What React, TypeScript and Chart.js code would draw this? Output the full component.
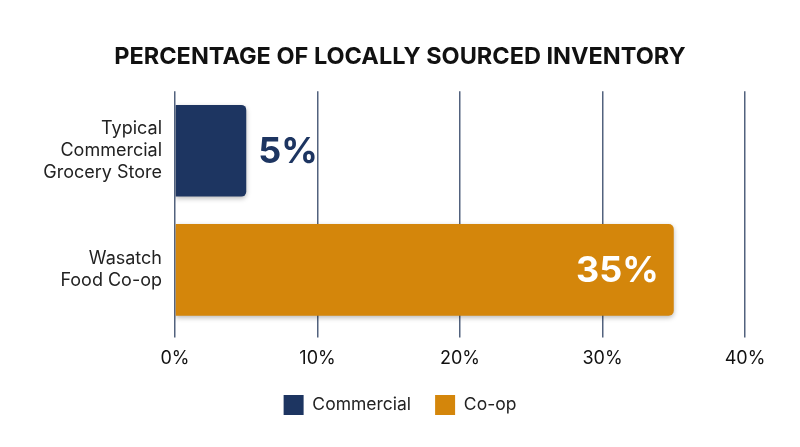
import { useEffect, useRef } from "react";
import { Chart, registerables } from "chart.js";

Chart.register(...registerables);

const CATEGORIES = [["Typical", "Commercial", "Grocery Store"], ["Wasatch", "Food Co-op"]];
const SERIES_NAMES = ["Commercial", "Co-op"];
const COMMERCIAL = [5, null];
const COOP = [null, 35];
const X_TICKS = [0, 10, 20, 30, 40];

const NAVY = "#1d3561";
const ORANGE = "#d4860b";
const GRID = "#52627e";
const FONT = "Inter, 'Open Sans', sans-serif";

// soft shadow under bars
const shadowPlugin = {
  id: "barShadow",
  beforeDatasetsDraw(chart: Chart) {
    const ctx = chart.ctx;
    ctx.save();
    ctx.shadowColor = "rgba(0,0,0,0.28)";
    ctx.shadowBlur = 5;
    ctx.shadowOffsetY = 2;
  },
  afterDatasetsDraw(chart: Chart) {
    chart.ctx.restore();
  },
};

// layout tweaks: legend up a bit, y labels allowed into the left padding
const layoutTweaks = {
  id: "layoutTweaks",
  afterLayout(chart: any) {
    if (chart.legend) {
      chart.legend.top -= 8;
      chart.legend.bottom -= 8;
    }
    if (chart.scales.y) chart.scales.y.left = 0;
  },
};

// value labels: outside short bars, inside long ones
const valueLabels = {
  id: "valueLabels",
  afterDatasetsDraw(chart: Chart) {
    const ctx = chart.ctx;
    ctx.save();
    ctx.font = `700 36px ${FONT}`;
    ctx.textBaseline = "middle";
    chart.data.datasets.forEach((ds, di) => {
      const meta = chart.getDatasetMeta(di);
      meta.data.forEach((bar: any, i) => {
        const v = ds.data[i] as number | null;
        if (v == null) return;
        const txt = `${v}%`;
        if (v < 10) {
          ctx.fillStyle = NAVY;
          ctx.textAlign = "left";
          ctx.fillText(txt, bar.x + 12, bar.y + 1);
        } else {
          ctx.fillStyle = "#ffffff";
          ctx.textAlign = "right";
          ctx.fillText(txt, bar.x - 15, bar.y + 1);
        }
      });
    });
    ctx.restore();
  },
};

export default function App() {
  const canvasRef = useRef<HTMLCanvasElement>(null);

  useEffect(() => {
    document.body.style.margin = "0";
    if (!canvasRef.current) return;
    const chart = new Chart(canvasRef.current, {
      type: "bar",
      data: {
        labels: CATEGORIES,
        datasets: [
          {
            label: SERIES_NAMES[0],
            data: COMMERCIAL,
            backgroundColor: NAVY,
            borderRadius: 5,
          },
          {
            label: SERIES_NAMES[1],
            data: COOP,
            backgroundColor: ORANGE,
            borderRadius: 5,
          },
        ],
      },
      options: {
        indexAxis: "y",
        animation: false,
        responsive: true,
        maintainAspectRatio: false,
        layout: { padding: { left: 55, right: 55, top: 0, bottom: 14 } },
        datasets: { bar: { grouped: false, categoryPercentage: 0.77, barPercentage: 1 } },
        plugins: {
          title: {
            display: true,
            text: "PERCENTAGE OF LOCALLY SOURCED INVENTORY",
            color: "#111111",
            font: { family: FONT, size: 23.5, weight: "bold" },
            padding: { top: 43, bottom: 20 },
          },
          legend: {
            position: "bottom",
            labels: {
              boxWidth: 20,
              boxHeight: 20,
              padding: 24,
              color: "#222222",
              font: { family: FONT, size: 17.5 },
            },
          },
          tooltip: { enabled: false },
        },
        scales: {
          x: {
            min: 0,
            max: 40,
            afterBuildTicks: (s: any) => {
              s.ticks = X_TICKS.map((value) => ({ value }));
            },
            ticks: {
              callback: (v: any) => `${v}%`,
              color: "#111111",
              font: { family: FONT, size: 18 },
              padding: 10,
            },
            grid: { color: GRID, lineWidth: 1.5, tickLength: 8, drawTicks: true },
            border: { display: false },
          },
          y: {
            afterFit: (s: any) => {
              s.width = 120;
            },
            ticks: {
              color: "#222222",
              font: { family: FONT, size: 18, lineHeight: 1.22 },
              padding: 13,
            },
            grid: { display: false, drawTicks: false },
            border: { display: false },
          },
        },
      },
      plugins: [shadowPlugin, valueLabels, layoutTweaks],
    });
    return () => chart.destroy();
  }, []);

  return (
    <div style={{ width: 800, height: 447, position: "relative", background: "#ffffff" }}>
      <canvas ref={canvasRef} />
    </div>
  );
}
